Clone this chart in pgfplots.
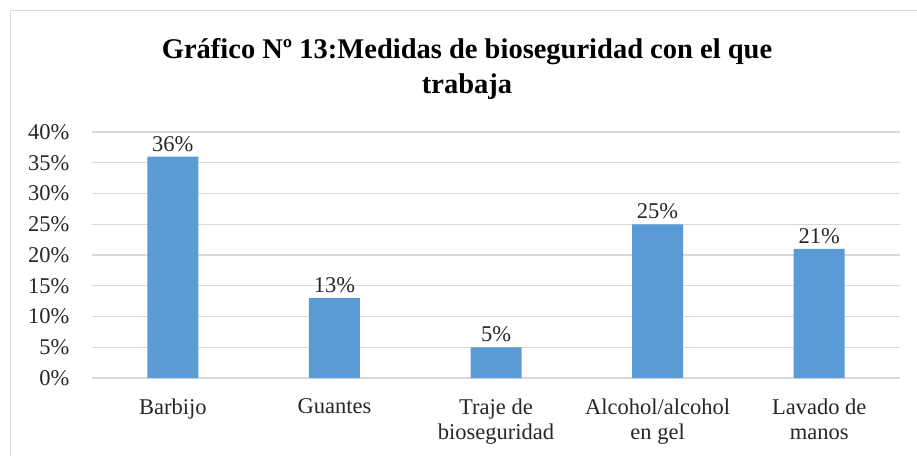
\documentclass[border=0pt]{standalone}
\usepackage{fontspec}
\setmainfont{Liberation Serif}
\usepackage{pgfplots}
\pgfplotsset{compat=1.18}
\definecolor{barblue}{HTML}{5B9BD5}
\definecolor{gridgray}{HTML}{D9D9D9}
\definecolor{txt}{HTML}{262626}
\begin{document}
\begin{tikzpicture}
\path[use as bounding box] (0,0) rectangle (917pt,456pt);
\draw[gridgray, line width=1.3pt] (10.5pt,0) -- (10.5pt,445.5pt) -- (917pt,445.5pt);
\node[anchor=base, align=center, font=\fontsize{28.5}{35}\selectfont\bfseries] at (467pt,362pt)
  {Gráfico Nº 13:Medidas de bioseguridad con el que\\trabaja};
\begin{axis}[
  at={(92pt,78pt)}, anchor=south west,
  width=808pt, height=246pt, scale only axis,
  xmin=-0.5, xmax=4.5, ymin=0, ymax=40,
  ytick={0,5,...,40},
  /pgf/number format/assume math mode=true,
  yticklabel={\pgfmathprintnumber{\tick}\%},
  ymajorgrids, grid style={gridgray, line width=1.3pt},
  axis x line=bottom, axis y line=left,
  axis line style={draw=none},
  major tick length=0pt,
  xtick=data,
  xticklabels={Barbijo, Guantes, {Traje de\\bioseguridad}, {Alcohol/alcohol\\en gel}, {Lavado de\\manos}},
  xticklabel style={align=center, font=\fontsize{22.5}{25}\selectfont, text=txt, yshift=-17pt},
  yticklabel style={font=\fontsize{22.5}{26}\selectfont, text=txt, xshift=-19pt},
  ybar, bar width=51pt,
  nodes near coords={\pgfmathprintnumber{\pgfplotspointmeta}\%},
  nodes near coords style={font=\fontsize{22.5}{26}\selectfont, text=txt, inner sep=2pt, yshift=3pt},
  clip=false,
]
\addplot[fill=barblue, draw=none] coordinates {(0,36) (1,13) (2,5) (3,25) (4,21)};
\end{axis}
\end{tikzpicture}
\end{document}
